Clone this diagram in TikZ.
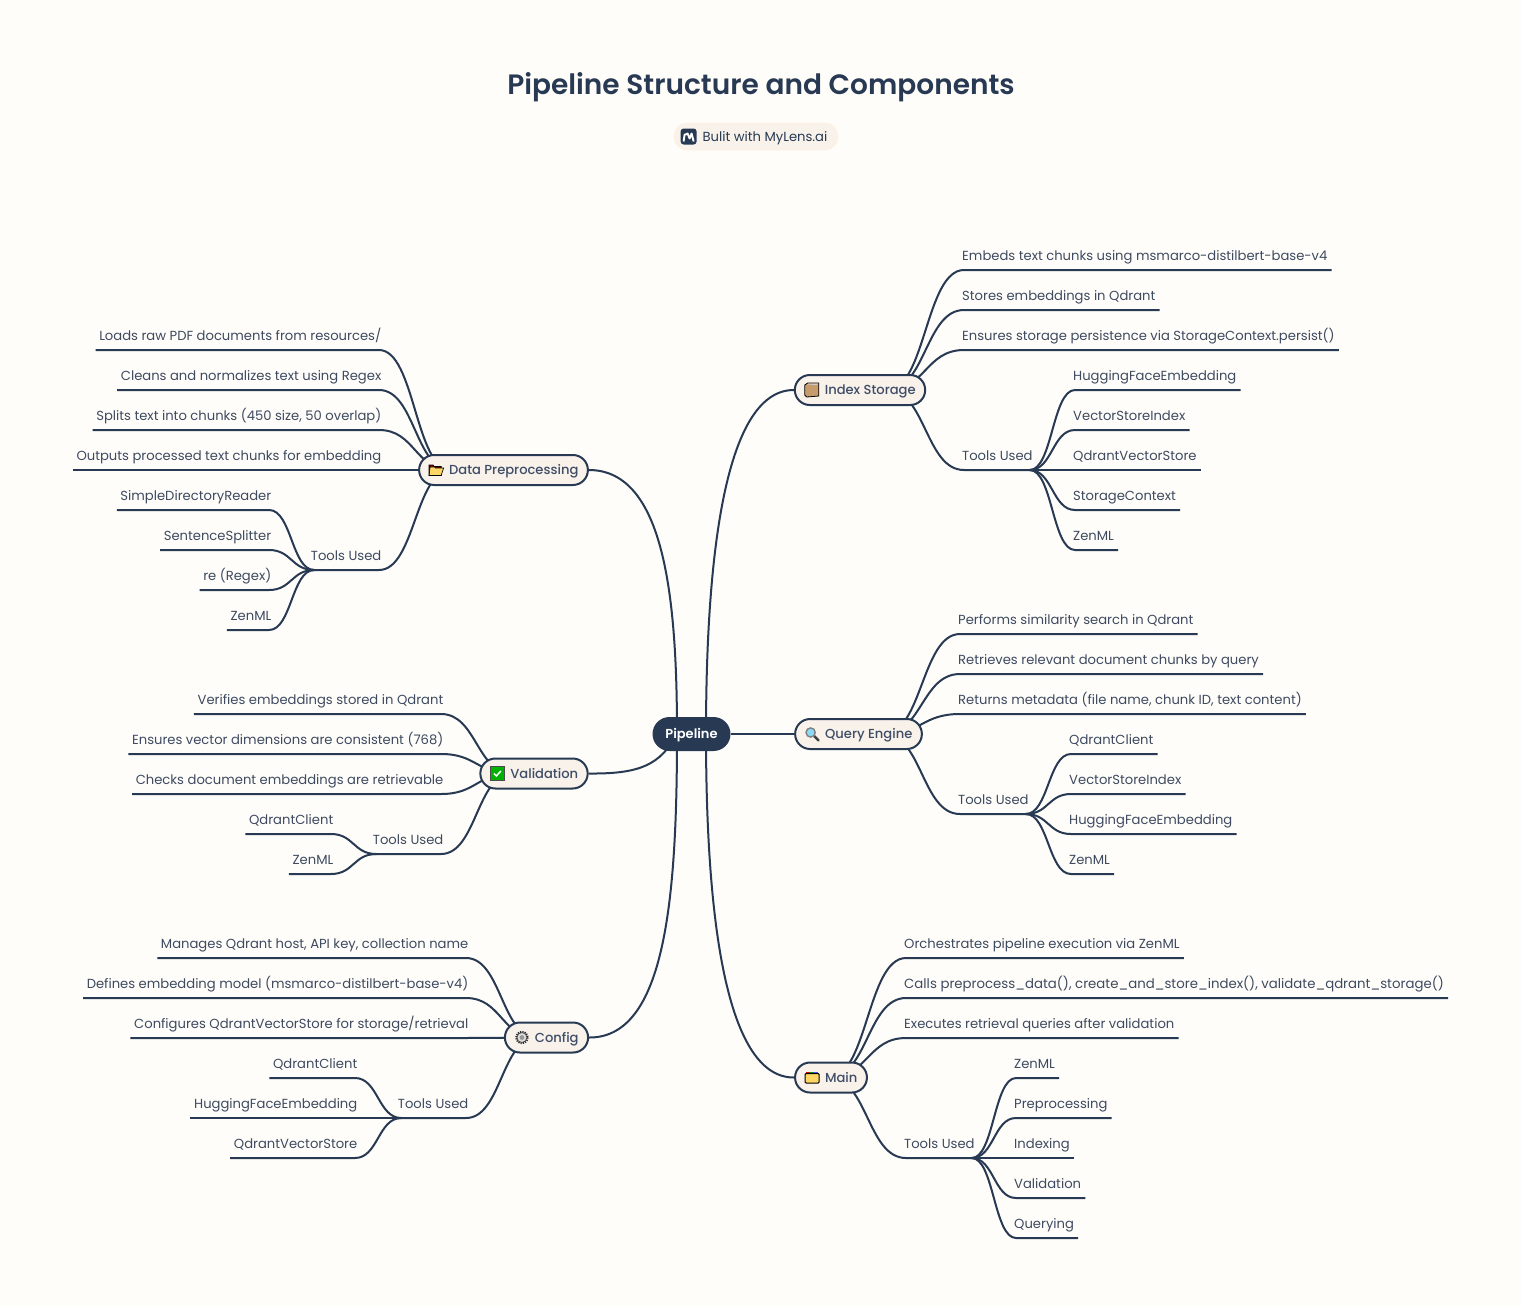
\documentclass[tikz,border=0pt]{standalone}
\usepackage{fontspec}
\setmainfont{Poppins}
\newfontfamily\medfont{Poppins Medium}
\newfontfamily\semifont{Poppins SemiBold}
\usetikzlibrary{positioning,calc,backgrounds}
\definecolor{paper}{HTML}{FFFDF9}
\definecolor{cream}{HTML}{F8F2EA}
\definecolor{navy}{HTML}{273953}
\definecolor{inkc}{HTML}{3D4A60}
\definecolor{topicc}{HTML}{3F4D66}
\definecolor{tanc}{HTML}{C69C6D}
\definecolor{foldc}{HTML}{FDD663}
% curve from a hub into the line under a leaf, then along that line
\newcommand{\linkr}[2]{\draw[wire] let \p1=(#1),\p2=([xshift=6pt]#2.south west),\p3=($(\p1)!.5!(\p2)$) in (\p1) .. controls (\x3,\y1) and (\x3,\y2) .. (\p2) -- (#2.south east);}
\newcommand{\linkl}[2]{\draw[wire] let \p1=(#1),\p2=([xshift=-6pt]#2.south east),\p3=($(\p1)!.5!(\p2)$) in (\p1) .. controls (\x3,\y1) and (\x3,\y2) .. (\p2) -- (#2.south west);}
\tikzset{
    boxicon/.pic={
        \fill[draw=black,line width=.8pt,fill=tanc] (-7,-5) -- (-4,-7) -- (7,-7) -- (7,6) -- (-5,7) -- (-7,5) -- cycle;
        \fill[fill=gray!40] (-5,-5.5) -- (-3,-6.5) -- (6.5,-6.5) -- (5,-5) -- cycle;
    },
    foldericon/.pic={
        \fill[draw=black,line width=.8pt,fill=red!60!black] (-7,5.5) -- (-7,-5) -- (-3,-5) -- (-2,-3.5) -- (5,-3.5) -- (5,5.5) -- cycle;
        \fill[draw=black,line width=.6pt,fill=foldc] (-7,5.5) -- (-6,-3) -- (-1.5,-3) -- (-0.5,-2) -- (7.5,-2) -- (5,5.5) -- cycle;
    },
    filesicon/.pic={
        \fill[red!80!black] (-6,-6) rectangle (-2,-3);
        \fill[green!60!black] (-2,-6) rectangle (2,-3);
        \fill[blue!70!white] (2,-6) rectangle (6,-3);
        \fill[draw=black,line width=1pt,rounded corners=1pt,fill=foldc] (-7,-4) rectangle (7,5.5);
    },
    lensicon/.pic={
        \draw[black!75,line width=2.4pt,line cap=round] (2,2) -- (6.5,6.5);
        \fill[draw=gray,line width=1.4pt,fill=cyan!45!white] (-1.5,-1.5) circle (4.6);
    },
    checkicon/.pic={
        \fill[draw=black!70,line width=.9pt,fill=green!70!black] (-7,-7) rectangle (7,7);
        \draw[white,line width=1.5pt] (-3.5,0) -- (-1,2.5) -- (3.5,-2.5);
    },
    gearicon/.pic={
        \draw[black!85,line width=1.8pt,dash pattern=on 1.2pt off 1.1pt] (0,0) circle (5.8);
        \draw[black!70,fill=gray!25,line width=.8pt] (0,0) circle (5);
        \fill[gray!80] (0,0) circle (2.4);
    },
    logoicon/.pic={
        \fill[navy,rounded corners=3pt] (-8,-8) rectangle (8,8);
        \draw[white,line width=1.9pt,line join=round] (-5,5) -- (-4,-2) to[out=-60,in=180] (-1,-3) -- (1,2) -- (3,-3) -- (5,5);
    }
}
\begin{document}
\begin{tikzpicture}[
        x=1pt,y=-1pt,
        wire/.style={draw=navy,line width=2pt,line join=round},
        leaf/.style={font=\fontsize{13.15}{16}\selectfont, text=inkc, inner xsep=4pt, inner ysep=0pt, minimum height=30pt, text height=12pt, text depth=1pt},
        leafr/.style={leaf, anchor=south west},
        leafl/.style={leaf, inner xsep=3.5pt, anchor=south east},
        nextr/.style={leafr, below=40pt of #1.south west, anchor=south west},
        nextl/.style={leafl, below=40pt of #1.south east, anchor=south east},
        topic/.style={rectangle, rounded corners=15pt, draw=navy, line width=2pt, fill=cream, minimum height=30pt, inner xsep=9.5pt, inner ysep=0pt, text height=10.5pt, text depth=1pt, text=topicc, font=\medfont\fontsize{13.1}{16}\selectfont},
    ]
        \begin{scope}[on background layer]
            \path[use as bounding box, fill=paper] (0,0) rectangle (1522,1306);
        \end{scope}

        \node (title) [text=navy, font=\semifont\fontsize{28}{34}\selectfont] at (761,87) {Pipeline Structure and Components};
        \node (badge) [rectangle, rounded corners=13pt, draw=orange!10, line width=.8pt, fill=cream, minimum width=164pt, minimum height=27pt, inner sep=0pt, text height=11pt, text depth=1pt, text=navy, font=\fontsize{13.15}{16}\selectfont] at (756,136.5) {\hspace*{18pt}Bulit with MyLens.ai};
        \pic at ([xshift=15pt]badge.west) {logoicon};

        \node (pipeline) [rectangle, rounded corners=17pt, fill=navy, minimum width=78pt, minimum height=34pt, inner sep=0pt, text height=10pt, text depth=1pt, text=white, font=\semifont\fontsize{13}{16}\selectfont] at (691.5,734) {Pipeline};
        \coordinate (busr) at (706,734);
        \coordinate (busl) at (677,734);

        % right hand topics
        \node (index) [topic] at (860,390) {\hspace*{20.5pt}Index Storage};
        \pic at ([xshift=18pt]index.west) {boxicon};
        \node (query) [topic] at (858.5,734) {\hspace*{20.5pt}Query Engine};
        \pic at ([xshift=18pt]query.west) {lensicon};
        \node (main) [topic] at (831,1077.5) {\hspace*{20.5pt}Main};
        \pic at ([xshift=18pt]main.west) {filesicon};

        % left hand topics
        \node (data) [topic] at (503.5,470) {\hspace*{20.5pt}Data Preprocessing};
        \pic at ([xshift=18pt]data.west) {foldericon};
        \node (valid) [topic] at (534,773.5) {\hspace*{20.5pt}Validation};
        \pic at ([xshift=18pt]valid.west) {checkicon};
        \node (config) [topic] at (546.5,1037.5) {\hspace*{20.5pt}Config};
        \pic at ([xshift=18pt]config.west) {gearicon};

        \coordinate (indexhub) at ([xshift=-39pt]index.east);
        \coordinate (queryhub) at ([xshift=-39pt]query.east);
        \coordinate (mainhub) at ([xshift=-39pt]main.east);
        \coordinate (datahub) at ([xshift=33pt]data.west);
        \coordinate (validhub) at ([xshift=33pt]valid.west);
        \coordinate (confighub) at ([xshift=33pt]config.west);

        % index storage
        \node (embeds) [leafr] at (958,270) {Embeds text chunks using msmarco-distilbert-base-v4};
        \node (stores) [nextr=embeds] {Stores embeddings in Qdrant};
        \node (persist) [nextr=stores] {Ensures storage persistence via StorageContext.persist()};
        \node (indextools) [leafr] at (958,470) {Tools Used};
        \coordinate (indextip) at ([xshift=-7pt]indextools.south east);
        \node (indexhf) [leafr] at (1069,390) {HuggingFaceEmbedding};
        \node (indexvs) [nextr=indexhf] {VectorStoreIndex};
        \node (indexqv) [nextr=indexvs] {QdrantVectorStore};
        \node (indexsc) [nextr=indexqv] {StorageContext};
        \node (indexzen) [nextr=indexsc] {ZenML};

        % query engine
        \node (search) [leafr] at (954,634) {Performs similarity search in Qdrant};
        \node (chunks) [nextr=search] {Retrieves relevant document chunks by query};
        \node (meta) [nextr=chunks] {Returns metadata (file name, chunk ID, text content)};
        \node (querytools) [leafr] at (954,814) {Tools Used};
        \coordinate (querytip) at ([xshift=-7pt]querytools.south east);
        \node (queryqc) [leafr] at (1065,754) {QdrantClient};
        \node (queryvs) [nextr=queryqc] {VectorStoreIndex};
        \node (queryhf) [nextr=queryvs] {HuggingFaceEmbedding};
        \node (queryzen) [nextr=queryhf] {ZenML};

        % main
        \node (orch) [leafr] at (900,958) {Orchestrates pipeline execution via ZenML};
        \node (calls) [nextr=orch, font=\fontsize{13.3}{16}\selectfont] {Calls preprocess\_data(), create\_and\_store\_index(), validate\_qdrant\_storage()};
        \node (exec) [nextr=calls] {Executes retrieval queries after validation};
        \node (maintools) [leafr] at (900,1158) {Tools Used};
        \coordinate (maintip) at ([xshift=-7pt]maintools.south east);
        \node (mainzen) [leafr] at (1010,1078) {ZenML};
        \node (mainpre) [nextr=mainzen] {Preprocessing};
        \node (mainidx) [nextr=mainpre] {Indexing};
        \node (mainval) [nextr=mainidx] {Validation};
        \node (mainqry) [nextr=mainval] {Querying};

        % data preprocessing
        \node (loads) [leafl] at (385,350) {Loads raw PDF documents from resources/};
        \node (cleans) [nextl=loads] {Cleans and normalizes text using Regex};
        \node (splits) [nextl=cleans] {Splits text into chunks (450 size, 50 overlap)};
        \node (outputs) [nextl=splits] {Outputs processed text chunks for embedding};
        \node (datatools) [leafl] at (385,570) {Tools Used};
        \coordinate (datatip) at ([xshift=7pt]datatools.south west);
        \node (datasd) [leafl] at (275,510) {SimpleDirectoryReader};
        \node (datass) [nextl=datasd] {SentenceSplitter};
        \node (datare) [nextl=datass] {re (Regex)};
        \node (datazen) [nextl=datare] {ZenML};

        % validation
        \node (verifies) [leafl] at (447,714) {Verifies embeddings stored in Qdrant};
        \node (dims) [nextl=verifies] {Ensures vector dimensions are consistent (768)};
        \node (checks) [nextl=dims] {Checks document embeddings are retrievable};
        \node (validtools) [leafl] at (447,854) {Tools Used};
        \coordinate (validtip) at ([xshift=7pt]validtools.south west);
        \node (validqc) [leafl] at (337,834) {QdrantClient};
        \node (validzen) [nextl=validqc] {ZenML};

        % config
        \node (manages) [leafl] at (472,958) {Manages Qdrant host, API key, collection name};
        \node (defines) [nextl=manages] {Defines embedding model (msmarco-distilbert-base-v4)};
        \node (configures) [nextl=defines] {Configures QdrantVectorStore for storage/retrieval};
        \node (configtools) [leafl] at (472,1118) {Tools Used};
        \coordinate (configtip) at ([xshift=7pt]configtools.south west);
        \node (configqc) [leafl] at (361,1078) {QdrantClient};
        \node (confighf) [nextl=configqc] {HuggingFaceEmbedding};
        \node (configqv) [nextl=confighf] {QdrantVectorStore};

        \begin{scope}[on background layer]
            \draw[wire] (busr) .. controls (706,570) and (722,390) .. (index.west);
            \draw[wire] (pipeline) -- (query);
            \draw[wire] (busr) .. controls (706,900) and (722,1078) .. (main.west);
            \draw[wire] (data.east) .. controls (665,470) and (677,600) .. (busl);
            \draw[wire] (valid.east) .. controls (640,774) and (660,765) .. (busl);
            \draw[wire] (config.east) .. controls (665,1038) and (677,900) .. (busl);

            \foreach \leafname in {embeds,stores,persist,indextools}{\linkr{indexhub}{\leafname}}
            \foreach \leafname in {indexhf,indexvs,indexqv,indexsc,indexzen}{\linkr{indextip}{\leafname}}
            \foreach \leafname in {search,chunks,meta,querytools}{\linkr{queryhub}{\leafname}}
            \foreach \leafname in {queryqc,queryvs,queryhf,queryzen}{\linkr{querytip}{\leafname}}
            \foreach \leafname in {orch,calls,exec,maintools}{\linkr{mainhub}{\leafname}}
            \foreach \leafname in {mainzen,mainpre,mainidx,mainval,mainqry}{\linkr{maintip}{\leafname}}
            \foreach \leafname in {loads,cleans,splits,outputs,datatools}{\linkl{datahub}{\leafname}}
            \foreach \leafname in {datasd,datass,datare,datazen}{\linkl{datatip}{\leafname}}
            \foreach \leafname in {verifies,dims,checks,validtools}{\linkl{validhub}{\leafname}}
            \foreach \leafname in {validqc,validzen}{\linkl{validtip}{\leafname}}
            \foreach \leafname in {manages,defines,configures,configtools}{\linkl{confighub}{\leafname}}
            \foreach \leafname in {configqc,confighf,configqv}{\linkl{configtip}{\leafname}}
        \end{scope}
    \end{tikzpicture}
\end{document}
